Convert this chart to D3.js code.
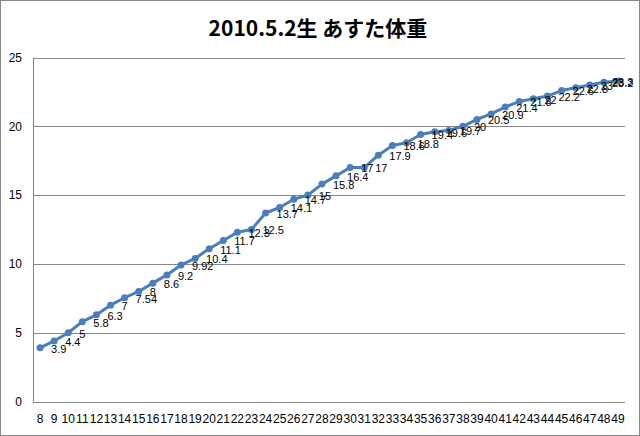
<!DOCTYPE html>
<meta charset="utf-8">
<script src="https://d3js.org/d3.v7.min.js"></script>
<style>
  body { margin: 0; background: #fff; }
  text { font-family: "Liberation Sans", Arial, sans-serif; }
</style>
<body>
<svg width="640" height="436"></svg>
<script>
    // weeks (x categories) and weights in kg
    var weeks   = d3.range(8, 50).map(String);
    var weights = [3.9, 4.4, 5, 5.8, 6.3, 7, 7.54, 8, 8.6, 9.2,
                   9.92, 10.4, 11.1, 11.7, 12.3, 12.5, 13.7, 14.1, 14.7, 15,
                   15.8, 16.4, 17, 17, 17.9, 18.6, 18.8, 19.4, 19.6, 19.7,
                   20, 20.5, 20.9, 21.4, 21.8, 22, 22.2, 22.6, 22.8, 23,
                   23.2, 23.3];
    var yTicks  = [0, 5, 10, 15, 20, 25];
    var title   = '2010.5.2生 あすた体重';

    var svg   = d3.select('svg');
    var blue  = '#4a7ebb';
    var plotL = 33, plotR = 625, plotT = 57.5, plotB = 401.5;

    var x = d3.scalePoint().domain(weeks).range([plotL, plotR]).padding(0.5);
    var y = d3.scaleLinear().domain([0, 25]).range([plotB, plotT]);

    svg.append('rect')
        .attr('x', 0.5).attr('y', 0.5)
        .attr('width', 639).attr('height', 435)
        .attr('fill', '#fff')
        .attr('stroke', '#868686');

    svg.append('text')
        .attr('x', 318).attr('y', 36)
        .attr('text-anchor', 'middle')
        .style('font-family', '"Noto Sans CJK JP", sans-serif')
        .style('font-weight', 'bold')
        .style('font-size', '21px')
        .text(title);

    // horizontal gridlines
    svg.selectAll('line.grid').data(yTicks)
        .enter().append('line')
        .attr('class', 'grid')
        .attr('x1', plotL).attr('x2', plotR)
        .attr('y1', function(d){ return Math.round(y(d)) + 0.5; })
        .attr('y2', function(d){ return Math.round(y(d)) + 0.5; })
        .attr('stroke', '#868686');

    svg.append('line')
        .attr('x1', plotL + 0.5).attr('x2', plotL + 0.5)
        .attr('y1', plotT).attr('y2', plotB)
        .attr('stroke', '#868686');

    // y axis labels
    svg.selectAll('text.ylab').data(yTicks)
        .enter().append('text')
        .attr('class', 'ylab')
        .attr('x', 22)
        .attr('y', function(d){ return y(d); })
        .attr('dy', '0.35em')
        .attr('text-anchor', 'end')
        .style('font-size', '12px')
        .text(function(d){ return d; });

    // x axis labels
    svg.selectAll('text.xlab').data(weeks)
        .enter().append('text')
        .attr('class', 'xlab')
        .attr('x', function(d){ return x(d); })
        .attr('y', 419)
        .attr('dy', '0.35em')
        .attr('text-anchor', 'middle')
        .style('font-size', '12px')
        .text(function(d){ return d; });

    var pts = weeks.map(function(w, i){ return [x(w), y(weights[i]), weights[i]]; });

    svg.append('path')
        .datum(pts)
        .attr('fill', 'none')
        .attr('stroke', blue)
        .attr('stroke-width', 3)
        .attr('stroke-linejoin', 'round')
        .attr('d', d3.line());

    svg.selectAll('circle').data(pts)
        .enter().append('circle')
        .attr('cx', function(d){ return d[0]; })
        .attr('cy', function(d){ return d[1]; })
        .attr('r', 3.5)
        .attr('fill', blue);

    // data labels to the right of each point
    svg.selectAll('text.dlab').data(pts)
        .enter().append('text')
        .attr('class', 'dlab')
        .attr('x', function(d){ return Math.min(d[0] + 11, 612); })
        .attr('y', function(d){ return d[1] + 1; })
        .attr('dy', '0.35em')
        .style('font-size', '11px')
        .text(function(d){ return d[2]; });
</script>
</body>
